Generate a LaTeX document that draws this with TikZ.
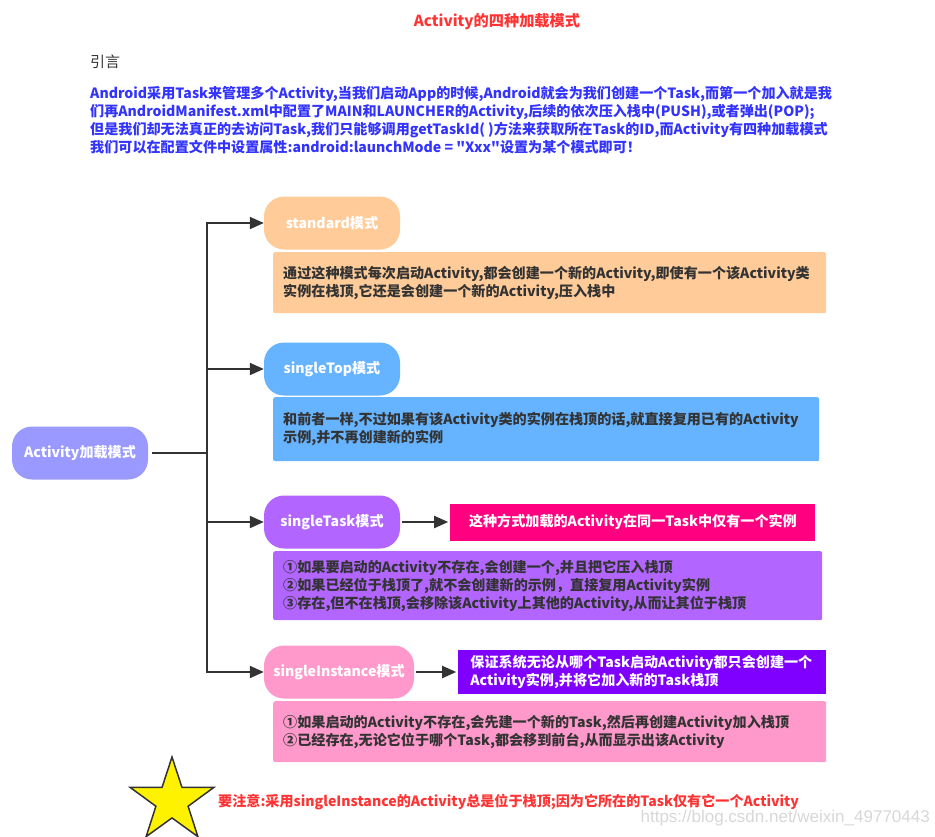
\documentclass[tikz,border=0pt]{standalone}
\usepackage{fontspec}
\setmainfont{Noto Sans CJK SC}[Ligatures=TeXOff]
\newfontfamily\wmfont{Liberation Sans}
\usetikzlibrary{arrows.meta,positioning,shapes.geometric}
\definecolor{actred}   {RGB}{255, 51, 51}
\definecolor{actblue}  {RGB}{ 51, 51,255}
\definecolor{txtgray}  {RGB}{ 51, 51, 51}
\definecolor{lngray}   {RGB}{ 51, 51, 51}
\definecolor{rootfill} {RGB}{153,153,255}
\definecolor{stdfill}  {RGB}{255,204,153}
\definecolor{topfill}  {RGB}{102,179,255}
\definecolor{tskfill}  {RGB}{178,102,255}
\definecolor{insfill}  {RGB}{255,153,204}
\definecolor{tsknote}  {RGB}{255,  0,128}
\definecolor{insnote}  {RGB}{127,  0,255}
\definecolor{wmgray}   {RGB}{215,215,215}
\newcommand\fs{\fontsize{14.1}{18}\selectfont}
\tikzset{
  mode/.style={rounded corners=20pt,minimum width=136pt,minimum height=53pt,
               inner sep=0pt,font=\bfseries\fs,text=white},
  desc/.style={anchor=north west,rounded corners=2pt,inner xsep=10pt,
               inner ysep=0pt,align=left,font=\bfseries\fs,text=txtgray},
  hint/.style={inner xsep=12pt,inner ysep=0pt,align=left,
               font=\bfseries\fs,text=white},
  arr/.style={-{Triangle[length=14pt,width=12pt]},line width=2pt,draw=lngray},
  trunk/.style={line width=2pt,draw=lngray},
}
\begin{document}
\begin{tikzpicture}[x=1pt,y=1pt]
  \useasboundingbox (0,0) rectangle (935,-836);
  % heading and introduction
  \node[font=\bfseries\fontsize{15.2}{18}\selectfont,text=actred] (TTL) at (497,-22) {Activity的四种加载模式};
  \node[anchor=west,inner sep=0pt,font=\fontsize{15}{18}\selectfont,text=txtgray]
    (INTRO) at (90,-62) {引言};
  \node[anchor=west,inner sep=0pt,align=left,font=\bfseries\fs,text=actblue] (TXT) at (90,-120)
    {Android采用Task来管理多个Activity,当我们启动App的时候,Android就会为我们创建一个Task,而第一个加入就是我\\
     们再AndroidManifest.xml中配置了MAIN和LAUNCHER的Activity,后续的依次压入栈中(PUSH),或者弹出(POP);\\
     但是我们却无法真正的去访问Task,我们只能够调用getTaskId( )方法来获取所在Task的ID,而Activity有四种加载模式\\
     我们可以在配置文件中设置属性:android:launchMode = "Xxx"设置为某个模式即可！};

  % modes
  \node[mode,fill=rootfill] (ROOT) at (80,-453) {Activity加载模式};
  \coordinate (J) at (207,-453);
  \node[mode,fill=stdfill] (STD) at (332,-223) {standard模式};
  \node[mode,fill=topfill] (TOP) at (332,-369) {singleTop模式};
  \node[mode,fill=tskfill] (TSK) at (332,-522) {singleTask模式};
  \node[mode,fill=insfill,minimum width=150pt] (INS) at (339,-672) {singleInstance模式};

  \node[desc,fill=stdfill,text width=533pt,minimum height=61pt] (STDD) at (273,-252)
    {通过这种模式每次启动Activity,都会创建一个新的Activity,即使有一个该Activity类\\
     实例在栈顶,它还是会创建一个新的Activity,压入栈中};
  \node[desc,fill=topfill,text width=526pt,minimum height=64pt] (TOPD) at (273,-397)
    {和前者一样,不过如果有该Activity类的实例在栈顶的话,就直接复用已有的Activity\\
     示例,并不再创建新的实例};
  \node[desc,fill=tskfill,text width=529pt,minimum height=69pt] (TSKD) at (273,-551)
    {①如果要启动的Activity不存在,会创建一个,并且把它压入栈顶\\
     ②如果已经位于栈顶了,就不会创建新的示例，直接复用Activity实例\\
     ③存在,但不在栈顶,会移除该Activity上其他的Activity,从而让其位于栈顶};
  \node[desc,fill=insfill,text width=533pt,minimum height=61pt] (INSD) at (273,-701)
    {①如果启动的Activity不存在,会先建一个新的Task,然后再创建Activity加入栈顶\\
     ②已经存在,无论它位于哪个Task,都会移到前台,从而显示出该Activity};

  \node[hint,fill=tsknote,minimum width=365pt,minimum height=37pt,align=center,
        right=50pt of TSK] (TSKN) {这种方式加载的Activity在同一Task中仅有一个实例};
  \node[hint,fill=insnote,text width=344pt,minimum height=44pt,
        right=44pt of INS] (INSN)
    {保证系统无论从哪个Task启动Activity都只会创建一个\\
     Activity实例,并将它加入新的Task栈顶};

  % connectors
  \draw[trunk,shorten <=4pt] (ROOT) -- (J);
  \draw[arr] (J) |- (STD);
  \draw[arr] (J) |- (TOP);
  \draw[arr] (J) |- (TSK);
  \draw[arr] (J) |- (INS);
  \draw[arr,shorten <=2pt,shorten >=2pt] (TSK) -- (TSKN);
  \draw[arr,shorten <=2pt,shorten >=2pt] (INS) -- (INSN);

  % remark
  \node[star,star points=5,star point ratio=2.6,minimum size=88pt,inner sep=0pt,
        fill=yellow,draw=lngray,line width=1.5pt] (STAR) at (172,-801) {};
  \node[anchor=west,inner sep=0pt,font=\bfseries\fs,text=actred] (RMK) at (218,-802)
    {要注意:采用singleInstance的Activity总是位于栈顶;因为它所在的Task仅有它一个Activity};
  \node[anchor=east,inner sep=0pt,font=\wmfont\fontsize{17}{18}\selectfont,text=wmgray]
    (WM) at (930,-818) {https://blog.csdn.net/weixin\_49770443};
\end{tikzpicture}
\end{document}
